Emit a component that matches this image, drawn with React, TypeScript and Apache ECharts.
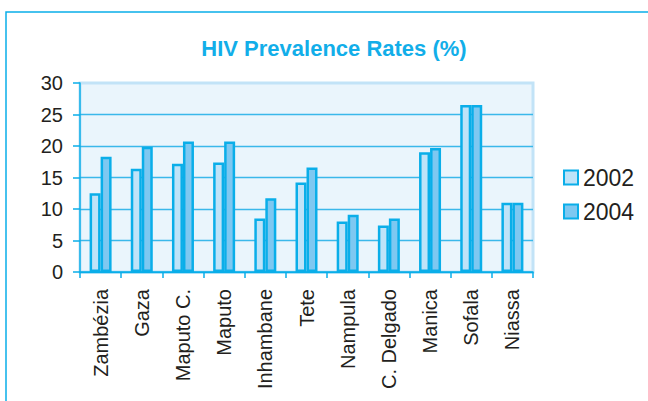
import React, { useEffect, useRef } from "react";
import * as echarts from "echarts";

const provinces = [
  "Zambézia",
  "Gaza",
  "Maputo C.",
  "Maputo",
  "Inhambane",
  "Tete",
  "Nampula",
  "C. Delgado",
  "Manica",
  "Sofala",
  "Niassa",
];
const rates2002 = [12.5, 16.4, 17.2, 17.4, 8.5, 14.2, 8.0, 7.4, 19.0, 26.5, 11.0];
const rates2004 = [18.3, 19.9, 20.7, 20.7, 11.7, 16.6, 9.1, 8.5, 19.7, 26.5, 11.0];
const yTicks = [0, 5, 10, 15, 20, 25, 30];

const FONT = "'Liberation Sans', Arial, Helvetica, sans-serif";
const CYAN = "#0aaee9";
const TEXT = "#231f20";

export default function App() {
  const ref = useRef<HTMLDivElement>(null);

  useEffect(() => {
    if (!ref.current) return;
    const chart = echarts.init(ref.current, undefined, { renderer: "svg" });
    chart.setOption({
      animation: false,
      backgroundColor: "#ffffff",
      textStyle: { fontFamily: FONT },
      graphic: [
        {
          type: "rect",
          shape: { x: 6, y: 12, width: 700, height: 500 },
          style: { fill: "none", stroke: CYAN, lineWidth: 1.5 },
          silent: true,
        },
        {
          type: "text",
          x: 334,
          y: 48,
          style: {
            text: "HIV Prevalence Rates (%)",
            fill: "#12aee9",
            font: `bold 22px ${FONT}`,
            textAlign: "center",
            textVerticalAlign: "middle",
          },
        },
      ],
      legend: {
        orient: "vertical",
        left: 563,
        top: 166,
        padding: 0,
        itemWidth: 14,
        itemHeight: 14,
        itemGap: 11,
        icon: "rect",
        textStyle: { fontSize: 23, lineHeight: 23, color: TEXT, fontFamily: FONT },
        data: ["2002", "2004"],
      },
      grid: {
        left: 80,
        right: 115,
        top: 83,
        bottom: 129,
        show: true,
        backgroundColor: "#eaf5fc",
        borderColor: "#c2e3f7",
        borderWidth: 3,
      },
      xAxis: {
        type: "category",
        data: provinces,
        axisLine: { lineStyle: { color: CYAN, width: 1.5 } },
        axisTick: { show: true, length: 6, lineStyle: { color: CYAN, width: 1.5 } },
        axisLabel: {
          rotate: 90,
          fontSize: 20,
          color: TEXT,
          margin: 17,
          fontFamily: FONT,
        },
      },
      yAxis: {
        type: "value",
        min: yTicks[0],
        max: yTicks[yTicks.length - 1],
        interval: 5,
        axisLine: { show: true, lineStyle: { color: CYAN, width: 1.5 } },
        axisTick: { show: true, length: 7, lineStyle: { color: CYAN, width: 1.5 } },
        axisLabel: { fontSize: 20, color: TEXT, margin: 17, fontFamily: FONT },
        splitLine: {
          show: true,
          lineStyle: {
            color: [CYAN, "#3ab8ea", "#3ab8ea", "#3ab8ea", "#3ab8ea", "#3ab8ea", "transparent"],
            width: 1.3,
          },
        },
      },
      series: [
        {
          name: "2002",
          type: "bar",
          data: rates2002,
          barWidth: 11,
          barGap: "0%",
          itemStyle: { color: "#bfe3f8", borderColor: CYAN, borderWidth: 2.5 },
        },
        {
          name: "2004",
          type: "bar",
          data: rates2004,
          barWidth: 11,
          itemStyle: { color: "#7ec8f1", borderColor: CYAN, borderWidth: 2.5 },
        },
      ],
    });
    return () => chart.dispose();
  }, []);

  return (
    <div
      ref={ref}
      style={{ position: "fixed", left: 0, top: 0, width: 648, height: 401 }}
    />
  );
}
